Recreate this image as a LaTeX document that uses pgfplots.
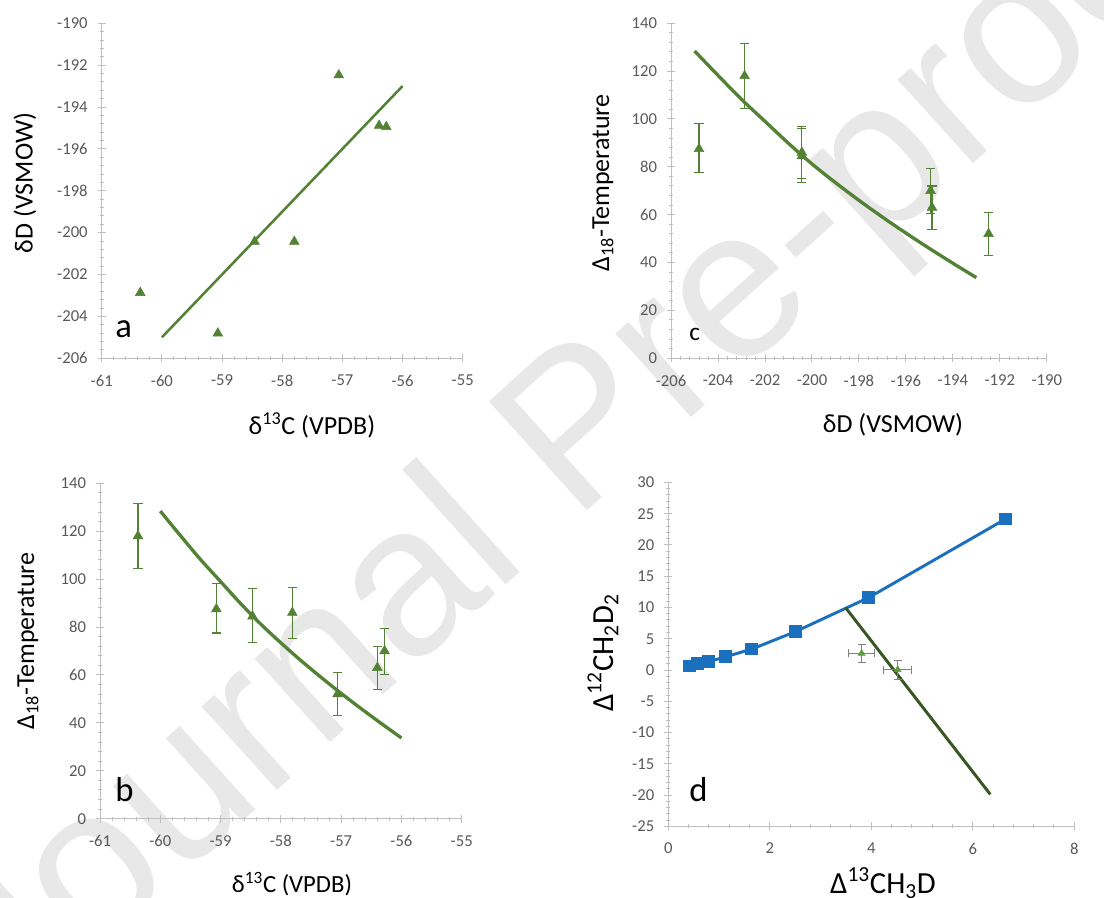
\documentclass[border=0pt]{standalone}
\usepackage{pgfplots}
\pgfplotsset{compat=1.18}
\usepackage{fontspec}
\setmainfont{Carlito}
\newfontfamily\wmfont{Liberation Sans}

\definecolor{xlgreen}{HTML}{548235}
\definecolor{xldark}{HTML}{375623}
\definecolor{xlblue}{HTML}{1A6FBE}
\definecolor{xlleaf}{HTML}{5E9C3F}
\definecolor{axgray}{HTML}{BFBFBF}
\definecolor{lblgray}{HTML}{595959}

\pgfplotsset{
  panel/.style={
    scale only axis,
    anchor=south west,
    axis lines*=left,
    axis line style={axgray, line width=0.75pt},
    every tick/.style={axgray, line width=0.75pt},
    tick align=center,
    major tick length=6pt,
    minor tick length=3pt,
    minor tick num=4,
    tick label style={font=\fontsize{12.5}{14}\selectfont, text=lblgray},
    /pgf/number format/assume math mode=true,
    /pgf/number format/1000 sep={},
    xticklabel style={yshift=-6pt},
    yticklabel style={xshift=-4pt},
    clip=false,
  },
  tri/.style={only marks, mark=triangle*, mark size=4.2pt, color=xlgreen},
  errb/.style={error bars/.cd, y dir=both, y explicit,
    error bar style={line width=0.8pt, xlgreen},
    error mark options={rotate=90, mark size=3.4pt, line width=0.8pt, xlgreen}},
}

\begin{document}
\begin{tikzpicture}
\useasboundingbox (0,0) rectangle (828pt,673.5pt);
\begin{scope}
\clip (0,0) rectangle (828pt,673.5pt);
\node[rotate=42, text=gray!18, font=\wmfont\fontsize{160}{160}\selectfont] at (440pt,345pt) {Journal Pre-proof};
\end{scope}

% a
\begin{axis}[panel, at={(76.3pt,404.8pt)}, width=270.75pt, height=251.25pt,
  xmin=-61, xmax=-55, ymin=-206, ymax=-190,
  xtick={-61,...,-55}, ytick={-206,-204,...,-190}]
\addplot[xlgreen, line width=1.9pt] coordinates {(-60,-205) (-56,-193)};
\addplot[tri] coordinates {
  (-60.36,-202.87) (-59.07,-204.81) (-58.46,-200.43) (-57.80,-200.43)
  (-57.06,-192.48) (-56.39,-194.89) (-56.27,-194.95)};
\end{axis}

% c
\begin{axis}[panel, at={(503.3pt,404.8pt)}, width=281.8pt, height=251.25pt,
  xmin=-206, xmax=-190, ymin=0, ymax=140,
  xtick={-206,-204,...,-190}, ytick={0,20,...,140}]
\addplot[xlgreen, line width=2.5pt, smooth] coordinates {
  (-205,128.4) (-204,118.2) (-203,108.2) (-202,99) (-201,89.8) (-200,81.2)
  (-199,73.4) (-198,66) (-197,59) (-196,52.3) (-195,45.9) (-194,39.7) (-193,33.7)};
\addplot[tri, errb] coordinates {
  (-202.87,118) += (0,13.5) -= (0,13.6)
  (-204.81,87.5) += (0,10.5) -= (0,10)
  (-200.43,84.5) += (0,11.5) -= (0,11)
  (-200.43,86) += (0,10.7) -= (0,10.7)
  (-192.48,52) += (0,9) -= (0,9)
  (-194.89,63) += (0,9) -= (0,9)
  (-194.95,70) += (0,9.2) -= (0,9.7)};
\end{axis}

% b
\begin{axis}[panel, at={(75pt,59.5pt)}, width=271.3pt, height=251.5pt,
  xmin=-61, xmax=-55, ymin=0, ymax=140,
  xtick={-61,...,-55}, ytick={0,20,...,140}]
\addplot[xlgreen, line width=2.5pt, smooth] coordinates {
  (-60,128.4) (-59.667,118.2) (-59.333,108.2) (-59,99) (-58.667,89.8) (-58.333,81.2)
  (-58,73.4) (-57.667,66) (-57.333,59) (-57,52.3) (-56.667,45.9) (-56.333,39.7) (-56,33.7)};
\addplot[tri, errb] coordinates {
  (-60.37,118) += (0,13.5) -= (0,13.6)
  (-59.07,87.5) += (0,10.5) -= (0,10)
  (-58.47,84.5) += (0,11.5) -= (0,11)
  (-57.81,86) += (0,10.7) -= (0,10.7)
  (-57.06,52) += (0,9) -= (0,9)
  (-56.40,63) += (0,9) -= (0,9)
  (-56.28,70) += (0,9.2) -= (0,9.7)};
\end{axis}

% d
\begin{axis}[panel, at={(501.2pt,53.7pt)}, width=304.5pt, height=258pt,
  xmin=0, xmax=8, ymin=-25, ymax=30,
  xtick={0,2,...,8}, ytick={-25,-20,...,30}]
\addplot[xlblue, line width=2.2pt, mark=square*, mark size=3.75pt] coordinates {
  (0.427,0.64) (0.571,1.07) (0.795,1.33) (1.136,2.13) (1.649,3.36)
  (2.502,6.13) (3.947,11.57) (6.647,24.15)};
\addplot[xldark, line width=2.2pt] coordinates {(3.494,9.97) (6.345,-19.88)};
\addplot[only marks, mark=triangle*, mark size=3pt, xlleaf,
  error bars/.cd, x dir=both, x explicit, y dir=both, y explicit,
  error bar style={gray, line width=0.8pt},
  error mark options={rotate=90, gray, mark size=3pt, line width=0.8pt}]
  coordinates {(3.81,2.66) +- (0.25,1.39) (4.52,0.05) +- (0.28,1.5)};
\end{axis}

% axis titles
\node[font=\fontsize{19.5}{22}\selectfont] at (234pt,354.75pt) {δ\textsuperscript{13}C (VPDB)};
\node[font=\fontsize{19.5}{22}\selectfont] at (669.75pt,354.75pt) {δD (VSMOW)};
\node[font=\fontsize{18.5}{22}\selectfont] at (219pt,10.5pt) {δ\textsuperscript{13}C (VPDB)};
\node[font=\fontsize{23}{26}\selectfont] at (662.25pt,11.25pt) {Δ\textsuperscript{13}CH\textsubscript{3}D};
\node[rotate=90, font=\fontsize{19.5}{22}\selectfont] at (18.75pt,536.25pt) {δD (VSMOW)};
\node[rotate=90, font=\fontsize{19.5}{22}\selectfont] at (452.25pt,536.25pt) {Δ\textsubscript{18}-Temperature};
\node[rotate=90, font=\fontsize{19.5}{22}\selectfont] at (21pt,192.75pt) {Δ\textsubscript{18}-Temperature};
\node[rotate=90, font=\fontsize{23}{26}\selectfont] at (452.25pt,183.75pt) {Δ\textsuperscript{12}CH\textsubscript{2}D\textsubscript{2}};

% panel letters
\node[anchor=base west, inner sep=0, font=\fontsize{26}{28}\selectfont] at (86.25pt,420pt) {a};
\node[anchor=base west, inner sep=0, font=\fontsize{19}{22}\selectfont] at (516.75pt,417.75pt) {c};
\node[anchor=base west, inner sep=0, font=\fontsize{26}{28}\selectfont] at (86.25pt,72pt) {b};
\node[anchor=base west, inner sep=0, font=\fontsize{26}{28}\selectfont] at (516.75pt,72pt) {d};
\end{tikzpicture}
\end{document}
